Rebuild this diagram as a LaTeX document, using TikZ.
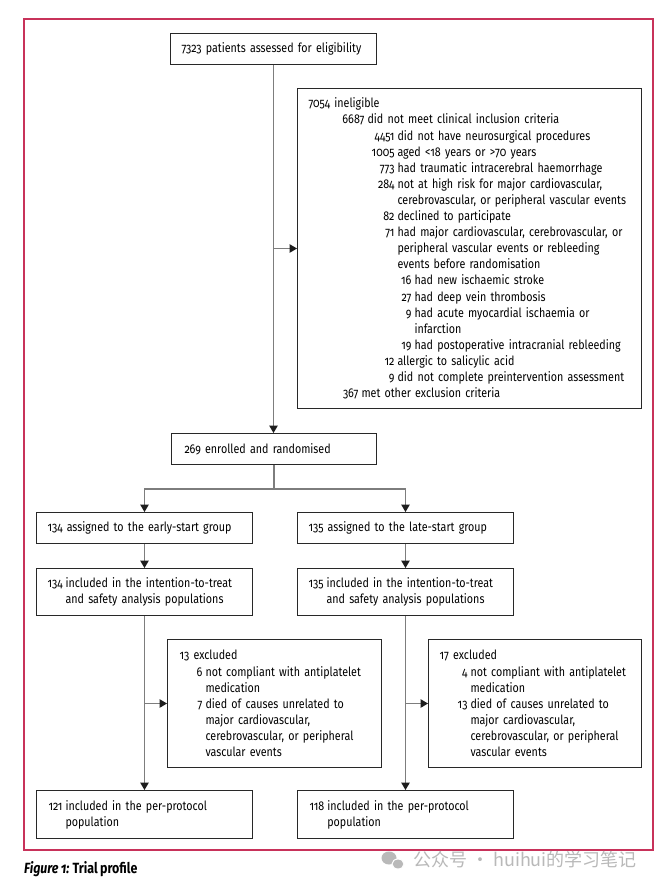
\documentclass[tikz,border=0pt]{standalone}
\usepackage{fontspec}
\setmainfont{Fira Sans}[Numbers=OldStyle, FakeStretch=0.84, WordSpace=0.8]
\newfontfamily\cjkfont{Noto Sans CJK SC}
\usetikzlibrary{arrows.meta}
\definecolor{framec}{RGB}{200,50,90}
\definecolor{boxc}{RGB}{40,40,40}
\definecolor{connc}{RGB}{125,125,125}
\definecolor{arrc}{RGB}{30,30,30}
\definecolor{wmc}{RGB}{185,185,185}
\newlength\hgw
\newcommand\NL[3]{\mbox{\makebox[#1pt][r]{#2}\hspace{3pt}#3}}
\newcommand\CL[2]{\mbox{\hspace{#1pt}#2}}
\newcommand\HG[3]{\settowidth{\hgw}{#1\hspace{3pt}}\mbox{#1\hspace{3pt}#2}\\\mbox{\hspace{\hgw}#3}}
\tikzset{
  box/.style={draw=boxc, line width=1pt, inner ysep=0pt, align=left,
    anchor=north west, font=\fontsize{12.75}{16.1}\selectfont},
  conn/.style={draw=connc, line width=1.3pt},
  arr/.style={conn, -{Triangle[length=7.5pt,width=8.5pt,color=arrc]}},
}
\begin{document}
\begin{tikzpicture}[x=1pt,y=-1pt]
\useasboundingbox (0,0) rectangle (661,886);
\fill[white] (0,0) rectangle (661,886);
\draw[framec, line width=1.2pt] (24,19) rectangle (653,850);

\node[box, inner xsep=11pt, minimum width=206pt, minimum height=31pt, text width=184pt] (b1) at (170,33)
  {\mbox{7323 patients assessed for eligibility}};

\node[box, inner xsep=11pt, minimum width=344pt, minimum height=320pt, text width=322pt] (inel) at (297,88)
  {\mbox{7054 ineligible}\\
   \NL{56}{6687}{did not meet clinical inclusion criteria}\\
   \NL{86}{4451}{did not have neurosurgical procedures}\\
   \NL{86}{1005}{aged <18 years or >70 years}\\
   \NL{86}{773}{had traumatic intracerebral haemorrhage}\\
   \NL{86}{284}{not at high risk for major cardiovascular,}\\
   \CL{89}{cerebrovascular, or peripheral vascular events}\\
   \NL{86}{82}{declined to participate}\\
   \NL{86}{71}{had major cardiovascular, cerebrovascular, or}\\
   \CL{89}{peripheral vascular events or rebleeding}\\
   \CL{89}{events before randomisation}\\
   \NL{103}{16}{had new ischaemic stroke}\\
   \NL{103}{27}{had deep vein thrombosis}\\
   \NL{103}{9}{had acute myocardial ischaemia or}\\
   \CL{106}{infarction}\\
   \NL{103}{19}{had postoperative intracranial rebleeding}\\
   \NL{86}{12}{allergic to salicylic acid}\\
   \NL{86}{9}{did not complete preintervention assessment}\\
   \NL{50}{367}{met other exclusion criteria}};

\node[box, inner xsep=13pt, minimum width=205pt, minimum height=31pt, text width=179pt] (enr) at (171,433)
  {\mbox{269 enrolled and randomised}};

\node[box, inner xsep=11pt, minimum width=216pt, minimum height=31pt, text width=194pt] (early) at (36,512)
  {\mbox{134 assigned to the early-start group}};
\node[box, inner xsep=11pt, minimum width=216pt, minimum height=31pt, text width=194pt] (late) at (297,512)
  {\mbox{135 assigned to the late-start group}};

\node[box, inner xsep=11pt, minimum width=216pt, minimum height=47pt, text width=194pt] (itt1) at (36,568)
  {\HG{134}{included in the intention-to-treat}{and safety analysis populations}};
\node[box, inner xsep=11pt, minimum width=216pt, minimum height=47pt, text width=194pt] (itt2) at (297,568)
  {\HG{135}{included in the intention-to-treat}{and safety analysis populations}};

\node[box, inner xsep=12pt, minimum width=214pt, minimum height=128pt, text width=190pt] (ex1) at (167,639)
  {\mbox{13 excluded}\\
   \NL{23}{6}{not compliant with antiplatelet}\\
   \CL{26}{medication}\\
   \NL{23}{7}{died of causes unrelated to}\\
   \CL{26}{major cardiovascular,}\\
   \CL{26}{cerebrovascular, or peripheral}\\
   \CL{26}{vascular events}};
\node[box, inner xsep=11pt, minimum width=213pt, minimum height=128pt, text width=191pt] (ex2) at (428,639)
  {\mbox{17 excluded}\\
   \NL{28}{4}{not compliant with antiplatelet}\\
   \CL{31}{medication}\\
   \NL{28}{13}{died of causes unrelated to}\\
   \CL{31}{major cardiovascular,}\\
   \CL{31}{cerebrovascular, or peripheral}\\
   \CL{31}{vascular events}};

\node[box, inner xsep=12pt, minimum width=216pt, minimum height=48pt, text width=192pt] (pp1) at (36,790)
  {\HG{121}{included in the per-protocol}{population}};
\node[box, inner xsep=12pt, minimum width=216pt, minimum height=48pt, text width=192pt] (pp2) at (297,790)
  {\HG{118}{included in the per-protocol}{population}};

% connectors
\draw[arr] (b1.south) -- (b1.south |- enr.north);
\draw[arr] (b1.south |- inel.west) -- (inel.west);
\coordinate (br) at (enr.south |- 0,489);
\draw[conn] (enr.south) -- (br);
\draw[arr] (br) -| (early.north);
\draw[arr] (br) -| (late.north);
\draw[arr] (early.south) -- (itt1.north);
\draw[arr] (late.south) -- (itt2.north);
\draw[arr] (itt1.south) -- (pp1.north);
\draw[arr] (itt2.south) -- (pp2.north);
\draw[arr] (itt1.south |- ex1.west) -- (ex1.west);
\draw[arr] (itt2.south |- ex2.west) -- (ex2.west);

% caption
\node[anchor=base west, inner sep=0pt, font=\fontsize{14.8}{17}\selectfont\bfseries] (cap) at (24,873)
  {\textit{Figure 1:} Trial profile};

% watermark
\fill[wmc] (389,858) ellipse (7.5 and 6.5);
\fill[wmc, draw=white, line width=1pt] (398,864) ellipse (6 and 5);
\node[anchor=base west, inner sep=0pt, text=wmc, font=\cjkfont\fontsize{18}{20}\selectfont] (wm) at (413,866)
  {公众号 · huihui的学习笔记};
\end{tikzpicture}
\end{document}
